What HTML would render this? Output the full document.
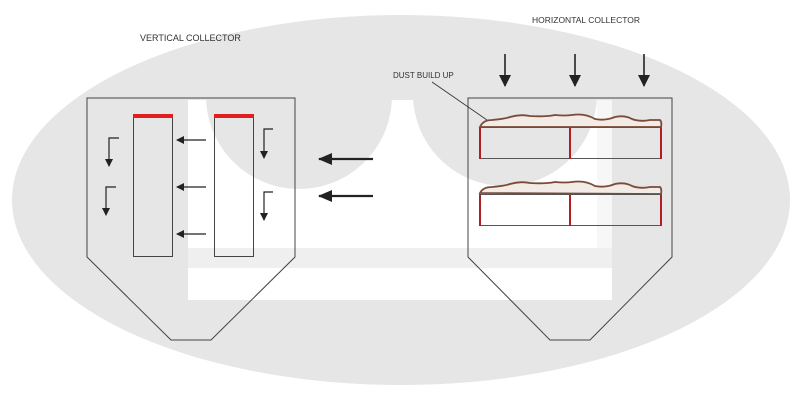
<!DOCTYPE html>
<html><head><style>
html,body{margin:0;padding:0;background:#fff;}
svg{display:block;}
text{font-family:"Liberation Sans",sans-serif;fill:#333;}
</style></head><body>
<svg width="800" height="400" viewBox="0 0 800 400" xmlns="http://www.w3.org/2000/svg">
<defs>
<marker id="ah" markerWidth="8" markerHeight="8" refX="7" refY="4" orient="auto" markerUnits="userSpaceOnUse"><path d="M0,0 L8,4 L0,8 Z" fill="#222"/></marker>
<marker id="ahb" markerWidth="14" markerHeight="12" refX="13" refY="6" orient="auto" markerUnits="userSpaceOnUse"><path d="M0,0 L14,6 L0,12 Z" fill="#222"/></marker>
<marker id="ahd" markerWidth="12" markerHeight="12" refX="11" refY="6" orient="auto" markerUnits="userSpaceOnUse"><path d="M0,0 L12,6 L0,12 Z" fill="#222"/></marker>
<clipPath id="wc"><rect x="188" y="100" width="424" height="200"/></clipPath>
</defs>
<ellipse cx="401" cy="200" rx="389" ry="185" fill="#e6e6e6"/>
<!-- watermark -->
<rect x="188" y="100" width="424" height="200" fill="#fff"/>
<rect x="188" y="248" width="424" height="20" fill="#efefef"/>
<g clip-path="url(#wc)">
<circle cx="299" cy="96" r="93" fill="#e6e6e6"/>
<circle cx="505" cy="94" r="92" fill="#e6e6e6"/>
</g>
<rect x="597" y="100" width="15" height="148" fill="#f7f7f7"/>

<text x="140" y="41" font-size="9">VERTICAL COLLECTOR</text>
<text x="532" y="23" font-size="8.5">HORIZONTAL COLLECTOR</text>
<text x="393" y="78" font-size="8">DUST BUILD UP</text>

<!-- left collector -->
<polygon points="87,98 295,98 295,257 211,340 171,340 87,257" fill="none" stroke="#444" stroke-width="1"/>
<rect x="133.5" y="117.5" width="39" height="139" fill="none" stroke="#444"/>
<rect x="214.5" y="117.5" width="39" height="139" fill="none" stroke="#444"/>
<rect x="133" y="114" width="40" height="4" fill="#e02020"/>
<rect x="214" y="114" width="40" height="4" fill="#e02020"/>
<g stroke="#222" stroke-width="1.2" fill="none" marker-end="url(#ah)">
<line x1="206" y1="140" x2="177" y2="140"/>
<line x1="206" y1="187" x2="177" y2="187"/>
<line x1="206" y1="234" x2="177" y2="234"/>
<polyline points="119,138 109,138 109,166"/>
<polyline points="116,187 106,187 106,215"/>
<polyline points="273,129 264,129 264,158"/>
<polyline points="273,192 264,192 264,220"/>
</g>
<g stroke="#222" stroke-width="2.2" fill="none" marker-end="url(#ahb)">
<line x1="373" y1="159" x2="319" y2="159"/>
<line x1="373" y1="196" x2="319" y2="196"/>
</g>

<!-- right collector -->
<polygon points="468,98 672,98 672,257 590,340 550,340 468,257" fill="none" stroke="#444"/>
<line x1="432" y1="82" x2="487" y2="120" stroke="#333" stroke-width="0.8"/>
<g stroke="#222" stroke-width="1.6" fill="none" marker-end="url(#ahd)">
<line x1="505" y1="54" x2="505" y2="86"/>
<line x1="575" y1="54" x2="575" y2="86"/>
<line x1="644" y1="54" x2="644" y2="86"/>
</g>
<path d="M480,127 Q483,120 492,120 Q505,119 510,117 Q520,114 530,116 Q545,117 555,115 Q565,116 572,115 Q585,113 595,119 Q605,121 615,117 Q625,115 632,119 Q640,122 650,120 L660,120 Q662,122 661,127 Z" fill="#f3ebe5" stroke="#7a4a3a" stroke-width="1.8"/>
<path d="M480,193 Q483,187 492,187 Q505,186 510,184 Q520,181 530,183 Q545,184 555,182 Q565,183 572,182 Q585,180 595,186 Q605,188 615,184 Q625,182 632,186 Q640,189 650,187 L660,187 Q662,189 661,194 Z" fill="#f3ebe5" stroke="#7a4a3a" stroke-width="1.8"/>
<rect x="479.5" y="127.5" width="182" height="31" fill="none" stroke="#555"/>
<rect x="479.5" y="194.5" width="182" height="31" fill="none" stroke="#555"/>
<g stroke="#b02020" stroke-width="2">
<line x1="480" y1="128" x2="480" y2="159"/><line x1="570" y1="128" x2="570" y2="159"/><line x1="661" y1="128" x2="661" y2="159"/>
<line x1="480" y1="195" x2="480" y2="226"/><line x1="570" y1="195" x2="570" y2="226"/><line x1="661" y1="195" x2="661" y2="226"/>
</g>
</svg>
</body></html>
